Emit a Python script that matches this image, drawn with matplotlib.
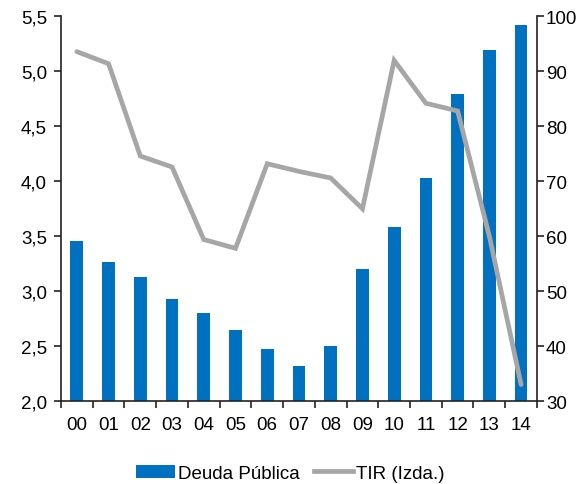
import matplotlib
matplotlib.use("Agg")
import matplotlib.pyplot as plt
from matplotlib.ticker import FixedLocator, FixedFormatter, NullFormatter
from matplotlib.lines import Line2D
from matplotlib.patches import Patch

plt.rcParams['font.family'] = ['Liberation Sans', 'DejaVu Sans']

years = ["00", "01", "02", "03", "04", "05", "06", "07", "08", "09",
         "10", "11", "12", "13", "14"]
deuda_publica = [59.2, 55.4, 52.6, 48.5, 46.1, 42.9, 39.5, 36.4, 40.0, 54.1,
                 61.7, 70.6, 85.9, 93.9, 98.5]
tir = [5.18, 5.07, 4.23, 4.13, 3.47, 3.39, 4.16, 4.09, 4.03, 3.75,
       5.10, 4.71, 4.64, 3.50, 2.15]
left_ticks = [2.0, 2.5, 3.0, 3.5, 4.0, 4.5, 5.0, 5.5]
right_ticks = [30, 40, 50, 60, 70, 80, 90, 100]

BAR_BLUE = "#0070C0"
LINE_GREY = "#A6A6A6"
FS = 13.5

fig = plt.figure(figsize=(5.78, 4.85), dpi=100)
ax = fig.add_axes([0.1055, 0.171, 0.8235, 0.793])
ax2 = ax.twinx()

x = list(range(len(years)))

# Bars: public debt on the right-hand scale
ax2.bar(x, deuda_publica, width=0.4, color=BAR_BLUE, zorder=2)
ax2.set_ylim(30, 100)
ax2.yaxis.set_major_locator(FixedLocator(right_ticks))
ax2.set_yticklabels([str(t) for t in right_ticks])

# Line: yield on the left-hand scale, drawn above the bars
ax.set_zorder(ax2.get_zorder() + 1)
ax.patch.set_visible(False)
ax.plot(x, tir, color=LINE_GREY, linewidth=3.4, solid_capstyle='round',
        solid_joinstyle='miter', zorder=3)
ax.set_ylim(2.0, 5.5)
ax.yaxis.set_major_locator(FixedLocator(left_ticks))
ax.set_yticklabels([f"{t:.1f}".replace(".", ",") for t in left_ticks])

ax.set_xlim(-0.5, len(years) - 0.5)
ax.xaxis.set_major_locator(FixedLocator([i - 0.5 for i in range(len(years) + 1)]))
ax.xaxis.set_major_formatter(NullFormatter())
ax.xaxis.set_minor_locator(FixedLocator(x))
ax.xaxis.set_minor_formatter(FixedFormatter(years))
ax.tick_params(axis='x', which='major', direction='out', length=5, width=1.2,
               color='#222222')
ax.tick_params(axis='x', which='minor', length=0, pad=11, labelsize=FS)
ax.tick_params(axis='y', direction='out', length=5, width=1.2, color='#222222',
               labelsize=FS, pad=5)
ax2.tick_params(axis='y', direction='out', length=5, width=1.2, color='#222222',
                labelsize=FS, pad=1.5)

for a in (ax, ax2):
    a.spines['top'].set_visible(False)
    for s in ('left', 'right', 'bottom'):
        a.spines[s].set_linewidth(1.2)
        a.spines[s].set_color('#222222')
ax.spines['right'].set_visible(False)
ax2.spines['left'].set_visible(False)
ax2.spines['bottom'].set_visible(False)

handles = [Patch(facecolor=BAR_BLUE, edgecolor='none'),
           Line2D([0], [0], color=LINE_GREY, linewidth=3.4)]
fig.legend(handles, ["Deuda Pública", "TIR (Izda.)"], loc='center',
           bbox_to_anchor=(0.502, 0.022), ncol=2, frameon=False, fontsize=FS,
           handlelength=2.05, handletextpad=0.15, columnspacing=0.8,
           borderaxespad=0)

fig.savefig("out.png", dpi=100)
